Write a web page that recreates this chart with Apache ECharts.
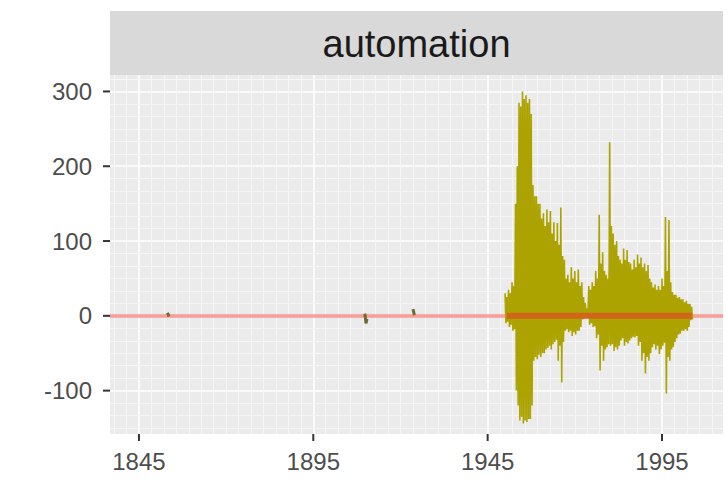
<!DOCTYPE html>
<html>
<head>
<meta charset="utf-8">
<script src="https://cdn.jsdelivr.net/npm/echarts@6/dist/echarts.min.js"></script>
<style>
html,body{margin:0;padding:0;background:#ffffff;}
#chart{width:728px;height:484px;}
</style>
</head>
<body>
<div id="chart"></div>
<script>
// ---- data ----
const facetTitle = 'automation';
const xTicks = [1845, 1895, 1945, 1995];
const yTicks = [-100, 0, 100, 200, 300];

// dense oscillating series, four readings per year:
// peaks (year), troughs (year + 0.25), peaks2 (year + 0.5), troughs2 (year + 0.75)
const firstYear = 1950;
const peaks = [
  30, 35, 45, 150, 285, 300, 295, 290, 175, 160,
  150, 137, 142, 140, 125, 124, 145, 75, 55, 65,
  60, 62, 45, 17, 40, 45, 60, 135, 85, 55,
  232, 110, 100, 75, 90, 88, 70, 75, 82, 78,
  70, 68, 45, 42, 40, 50, 132, 128, 32, 28,
  25, 22, 20, 16
];
const troughs = [
  -10, -15, -20, -100, -140, -144, -142, -138, -60, -58,
  -55, -50, -43, -45, -35, -60, -89, -20, -22, -27,
  -25, -20, -5, -2, -12, -15, -30, -73, -60, -42,
  -40, -47, -45, -33, -40, -37, -30, -29, -40, -60,
  -77, -60, -42, -45, -51, -40, -104, -60, -42, -30,
  -24, -20, -20, -6
];
const peaks2 = [
  25, 30, 40, 200, 280, 290, 285, 270, 160, 150,
  130, 120, 125, 110, 100, 95, 80, 50, 45, 50,
  45, 40, 25, 10, 35, 40, 50, 70, 60, 50,
  120, 95, 80, 70, 75, 72, 62, 65, 70, 65,
  60, 50, 38, 35, 35, 40, 60, 45, 28, 24,
  22, 18, 16, 12
];
const troughs2 = [
  -8, -12, -18, -120, -135, -140, -138, -120, -55, -52,
  -50, -45, -40, -38, -32, -40, -35, -18, -20, -22,
  -20, -15, -4, -2, -10, -14, -25, -40, -45, -38,
  -38, -42, -40, -30, -35, -33, -28, -27, -35, -50,
  -55, -50, -38, -40, -45, -36, -55, -45, -35, -25,
  -20, -18, -15, -5
];

// sparse early marks
const sparseYears = [[1853.2, 1853.6], [1909.8, 1910.1, 1910.4], [1923.6, 1924.0]];
const sparseValues = [[4, -1], [3, -10, -4], [9, 1]];

// near-zero core line during the dense period
const coreYears = [1950.5, 2003.6];
const coreValues = [0, 0];
const zeroLine = 0;

// ---- build ----
const denseData = [];
for (let i = 0; i < peaks.length; i++) {
  denseData.push([firstYear + i, peaks[i]]);
  denseData.push([firstYear + i + 0.25, troughs[i]]);
  denseData.push([firstYear + i + 0.5, peaks2[i]]);
  denseData.push([firstYear + i + 0.75, troughs2[i]]);
}

const X_MIN = 1836.7, X_MAX = 2012.5;
const Y_MIN = -158, Y_MAX = 322;

// fine background mesh (decoration of the panel)
const minorX = [];
for (let k = 0; k * (50 / 14) + 1795 < X_MAX; k++) {
  const v = 1795 + k * (50 / 14);
  if (v > X_MIN && xTicks.indexOf(Math.round(v)) < 0) minorX.push(+v.toFixed(4));
}
const minorY = [];
for (let k = 0; -200 + k * (100 / 6) < Y_MAX; k++) {
  const v = -200 + k * (100 / 6);
  if (v > Y_MIN && yTicks.indexOf(Math.round(v)) < 0) minorY.push(+v.toFixed(4));
}

const OLIVE = '#ADA300';
const series = [];
series.push({
  name: 'mesh', type: 'line', data: [], z: 1, silent: true,
  markLine: {
    silent: true, symbol: 'none', label: {show: false}, animation: false, z: 1,
    lineStyle: {color: '#F6F6F6', width: 1, type: 'solid'},
    data: minorX.map(v => ({xAxis: v})).concat(minorY.map(v => ({yAxis: v})))
  }
});
series.push({
  name: 'zero', type: 'line', data: [], z: 2, silent: true,
  markLine: {
    silent: true, symbol: 'none', label: {show: false}, animation: false, z: 2,
    lineStyle: {color: '#F8766D', width: 3.5, type: 'solid', opacity: 0.7},
    data: [{yAxis: zeroLine}]
  }
});
series.push({
  name: facetTitle, type: 'line', data: denseData,
  showSymbol: false, symbol: 'none', z: 3, animation: false,
  lineStyle: {color: OLIVE, width: 1.6},
  areaStyle: {color: OLIVE, opacity: 1, origin: 0}
});
sparseYears.forEach((ys, gi) => {
  series.push({
    type: 'line', data: ys.map((y, j) => [y, sparseValues[gi][j]]),
    showSymbol: false, symbol: 'none', z: 3, animation: false,
    lineStyle: {color: '#6E6A30', width: 3}
  });
});
series.push({
  type: 'line', data: coreYears.map((y, j) => [y, coreValues[j]]),
  showSymbol: false, symbol: 'none', z: 4, animation: false,
  lineStyle: {color: '#D0661A', width: 6}
});

const chart = echarts.init(document.getElementById('chart'), null, {renderer: 'svg'});
const labelFmt = v => String(Math.round(v));
const labelStyle = {color: '#4D4D4D', fontSize: 24, fontFamily: 'Liberation Sans'};
const baseGraphics = [
  {id: 'strip', type: 'rect', left: 110, top: 11, shape: {width: 613, height: 64}, style: {fill: '#D9D9D9'}, z: -1},
  {id: 'stripText', type: 'text', x: 416.5, y: 44, style: {text: facetTitle, fill: '#1A1A1A', textAlign: 'center', textVerticalAlign: 'middle', font: '38px "Liberation Sans", Arial, sans-serif'}}
];
chart.setOption({
  animation: false,
  backgroundColor: '#ffffff',
  graphic: baseGraphics,
  grid: {left: 110, right: 5, top: 75, bottom: 50, show: true, backgroundColor: '#EBEBEB', borderWidth: 0},
  xAxis: {
    type: 'value', min: X_MIN, max: X_MAX,
    axisLine: {show: false, onZero: false},
    axisTick: {show: false, customValues: xTicks},
    axisLabel: Object.assign({customValues: xTicks, formatter: labelFmt, margin: 15}, labelStyle),
    splitLine: {show: true, lineStyle: {color: '#FFFFFF', width: 1.6}}
  },
  yAxis: {
    type: 'value', min: Y_MIN, max: Y_MAX,
    axisLine: {show: false, onZero: false},
    axisTick: {show: false, customValues: yTicks},
    axisLabel: Object.assign({customValues: yTicks, formatter: labelFmt, margin: 18}, labelStyle),
    splitLine: {show: true, lineStyle: {color: '#FFFFFF', width: 1.6}}
  },
  series: series
});

// outward tick marks placed through the chart's own scales
const panelLeft = chart.convertToPixel({xAxisIndex: 0}, X_MIN);
const panelBottom = chart.convertToPixel({yAxisIndex: 0}, Y_MIN);
const tickLen = 7;
const tickGraphics = [];
xTicks.forEach((v, i) => {
  const px = chart.convertToPixel({xAxisIndex: 0}, v);
  tickGraphics.push({id: 'xt' + i, type: 'line', shape: {x1: px, y1: panelBottom, x2: px, y2: panelBottom + tickLen}, style: {stroke: '#333333', lineWidth: 2}, z: 10});
});
yTicks.forEach((v, i) => {
  const py = chart.convertToPixel({yAxisIndex: 0}, v);
  tickGraphics.push({id: 'yt' + i, type: 'line', shape: {x1: panelLeft - tickLen, y1: py, x2: panelLeft, y2: py}, style: {stroke: '#333333', lineWidth: 2}, z: 10});
});
chart.setOption({graphic: baseGraphics.concat(tickGraphics)});
</script>
</body>
</html>
